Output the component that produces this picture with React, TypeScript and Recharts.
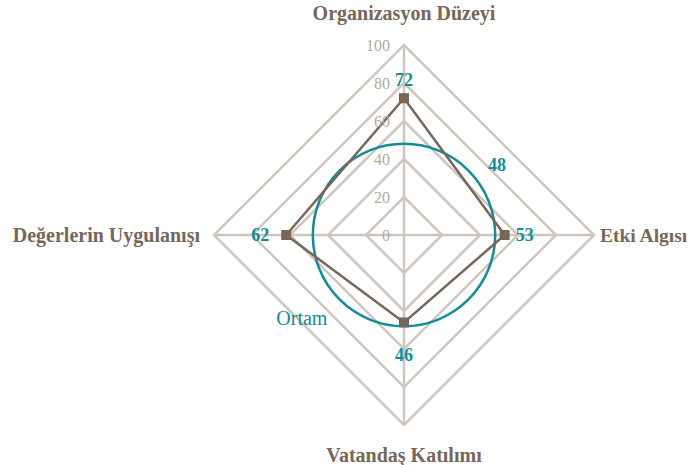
import React from "react";
import { RadarChart, Radar, PolarGrid, PolarAngleAxis, PolarRadiusAxis } from "recharts";

const categories = ["Organizasyon Düzeyi", "Etki Algısı", "Vatandaş Katılımı", "Değerlerin Uygulanışı"];
const scores = [72, 53, 46, 62];
const meanValue = 48;
const meanLabel = "Ortam";
const radiusTicks = [0, 20, 40, 60, 80, 100];

const data = categories.map((c, i) => ({ category: c, score: scores[i], mean: meanValue }));

const BROWN = "#77675a";
const TEAL = "#138c98";
const GRID = "#cfc7bf";
const FONT = "'Liberation Serif', serif";

const labelOffsets = [
  { dx: 0, dy: -18 },
  { dx: 20, dy: 0 },
  { dx: 0, dy: 33 },
  { dx: -26, dy: 0 },
];

const ScoreDot = (props: any) => {
  const { cx, cy, index, value } = props;
  const off = labelOffsets[index] || { dx: 0, dy: 0 };
  const v = Array.isArray(value) ? value[1] : value;
  return (
    <g key={`dot-${index}`}>
      <rect x={cx - 5} y={cy - 5} width={10} height={10} fill={BROWN} />
      <text
        x={cx + off.dx}
        y={cy + off.dy}
        textAnchor="middle"
        dominantBaseline="central"
        fill={TEAL}
        fontFamily={FONT}
        fontWeight="bold"
        fontSize={18}
      >
        {scores[index] ?? v}
      </text>
    </g>
  );
};

const MeanShape = (props: any) => {
  const { points } = props;
  if (!points || !points.length) return null;
  const p = points[0];
  const r = p.radius;
  return (
    <g>
      <circle cx={p.cx} cy={p.cy} r={r} fill="none" stroke={TEAL} strokeWidth={2.5} />
      <text x={p.cx + r * 1.02} y={p.cy - r * 0.77} textAnchor="middle" dominantBaseline="central" fill={TEAL} fontFamily={FONT} fontWeight="bold" fontSize={18}>
        {meanValue}
      </text>
      <text x={p.cx - r * 1.12} y={p.cy + r * 0.91} textAnchor="middle" dominantBaseline="central" fill={TEAL} fontFamily={FONT} fontSize={20}>
        {meanLabel}
      </text>
    </g>
  );
};

const AngleTick = (props: any) => {
  const { x, y, payload, index } = props;
  let tx = x, ty = y, anchor: any = "middle";
  if (index === 0) { ty = y - 24; }
  else if (index === 1) { tx = x - 2; anchor = "start"; }
  else if (index === 2) { ty = y + 22; }
  else { tx = x - 6; anchor = "end"; }
  return (
    <text x={tx} y={ty} textAnchor={anchor} dominantBaseline="central" fill={BROWN} fontFamily={FONT} fontWeight="bold" fontSize={index === 1 ? 19.5 : 20}>
      {payload.value}
    </text>
  );
};

const RadiusTick = (props: any) => {
  const { x, y, payload } = props;
  return (
    <text x={x - 14} y={y} textAnchor="end" dominantBaseline="central" fill="#b4aa9f" fontFamily={FONT} fontSize={16}>
      {payload.value}
    </text>
  );
};

export default function App() {
  return (
    <div style={{ position: "absolute", left: 0, top: 0, width: 689, height: 465, background: "#fff" }}>
      <RadarChart width={689} height={465} data={data} cx={404} cy={235} outerRadius={190} margin={{ top: 0, right: 0, bottom: 0, left: 0 }}>
        <PolarGrid gridType="polygon" stroke={GRID} strokeWidth={2.5} strokeOpacity={1} />
        <PolarAngleAxis dataKey="category" tick={<AngleTick />} tickLine={false} axisLine={false} />
        <PolarRadiusAxis angle={90} domain={[0, 100]} ticks={radiusTicks as any} tickCount={6} tick={<RadiusTick />} axisLine={false} tickLine={false} />
        <Radar dataKey="mean" isAnimationActive={false} shape={(p: any) => <MeanShape {...p} />} />
        <Radar dataKey="score" isAnimationActive={false} stroke={BROWN} strokeWidth={2.5} fill="none" fillOpacity={0} dot={(p: any) => <ScoreDot {...p} />} />
      </RadarChart>
    </div>
  );
}
